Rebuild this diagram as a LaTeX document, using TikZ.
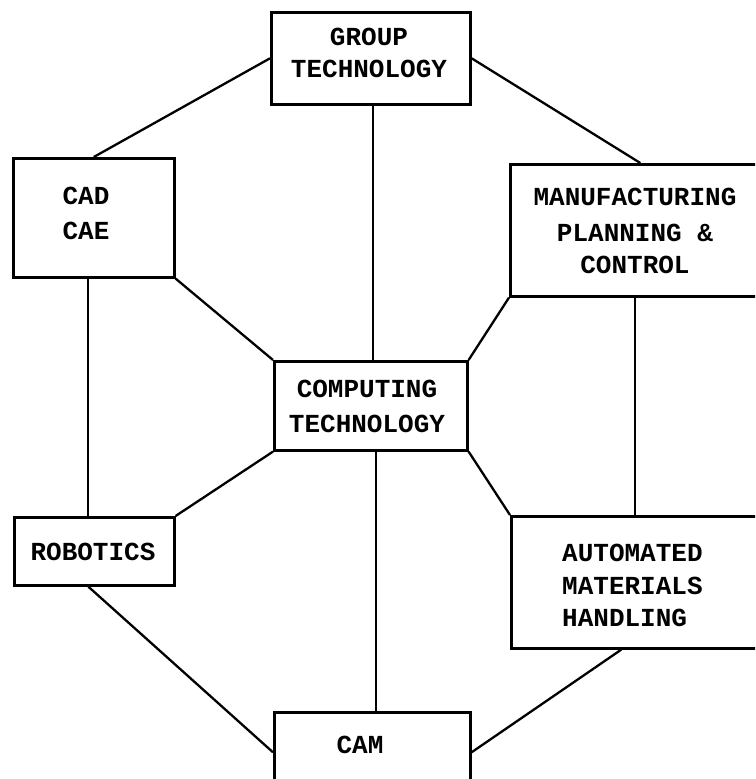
\documentclass[tikz,border=0pt]{standalone}
\usepackage{fontspec}
\setmonofont{Liberation Mono}
\newcommand\lblfont{\fontsize{26}{33}\selectfont\ttfamily\bfseries}
\begin{document}
\begin{tikzpicture}[x=1pt,y=-1pt,
  box/.style={draw, line width=2.6pt, inner sep=0pt, anchor=north west},
  conn/.style={line width=2.3pt},
  lbl/.style={font=\lblfont, inner sep=0pt, anchor=base}]
\useasboundingbox (0,0) rectangle (755,779);
\fill[white] (0,0) rectangle (755,779);
\clip (0,0) rectangle (755,779);
% boxes
\node[box, minimum width=199pt, minimum height=92pt]  (grp)  at (270,11)  {};
\node[box, minimum width=161pt, minimum height=119pt] (cad)  at (12,157)  {};
\node[box, minimum width=260pt, minimum height=132pt] (mpc)  at (509,163) {};
\node[box, minimum width=193pt, minimum height=89pt]  (comp) at (273,360) {};
\node[box, minimum width=160pt, minimum height=68pt]  (rob)  at (13,516)  {};
\node[box, minimum width=260pt, minimum height=132pt] (amh)  at (510,515) {};
\node[box, minimum width=196pt, minimum height=80pt]  (cam)  at (273,711) {};
% texts
\node[lbl, align=center] (grpT)  at (369,77)  {GROUP\\[-1pt]TECHNOLOGY};
\node[lbl, align=center] (cadT)  at (86,239)  {CAD\\[2pt]CAE};
\node[lbl, align=center] (mpcT)  at (635,273) {MANUFACTURING\\[3pt]PLANNING \&\\[-1pt]CONTROL};
\node[lbl, align=center] (compT) at (367,432) {COMPUTING\\[2pt]TECHNOLOGY};
\node[lbl] (robT) at (93,560) {ROBOTICS};
\node[lbl, align=left, anchor=base west] (amhT) at (562,626) {AUTOMATED\\[0pt]MATERIALS\\[-1pt]HANDLING};
\node[lbl] (camT) at (360,753) {CAM};
% connectors
\draw[conn] (cad.north) -- (grp.west);
\draw[conn] ([xshift=2pt]grp.south) -- ([xshift=2pt]grp.south |- comp.north);
\draw[conn] (grp.east) -- (mpc.north);
\draw[conn] (cad.south east) -- (comp.north west);
\draw[conn] (mpc.south west) -- (comp.north east);
\draw[conn] ([xshift=-6pt]cad.south) -- ([xshift=-6pt]cad.south |- rob.north);
\draw[conn] ([xshift=-5pt]mpc.south) -- ([xshift=-5pt]mpc.south |- amh.north);
\draw[conn] (comp.south west) -- (rob.north east);
\draw[conn] (comp.south east) -- (amh.north west);
\draw[conn] ([xshift=5pt]comp.south) -- ([xshift=5pt]comp.south |- cam.north);
\draw[conn] ([xshift=-6pt]rob.south) -- (cam.west);
\draw[conn] ([xshift=-20pt]amh.south) -- (cam.east);
\end{tikzpicture}
\end{document}
